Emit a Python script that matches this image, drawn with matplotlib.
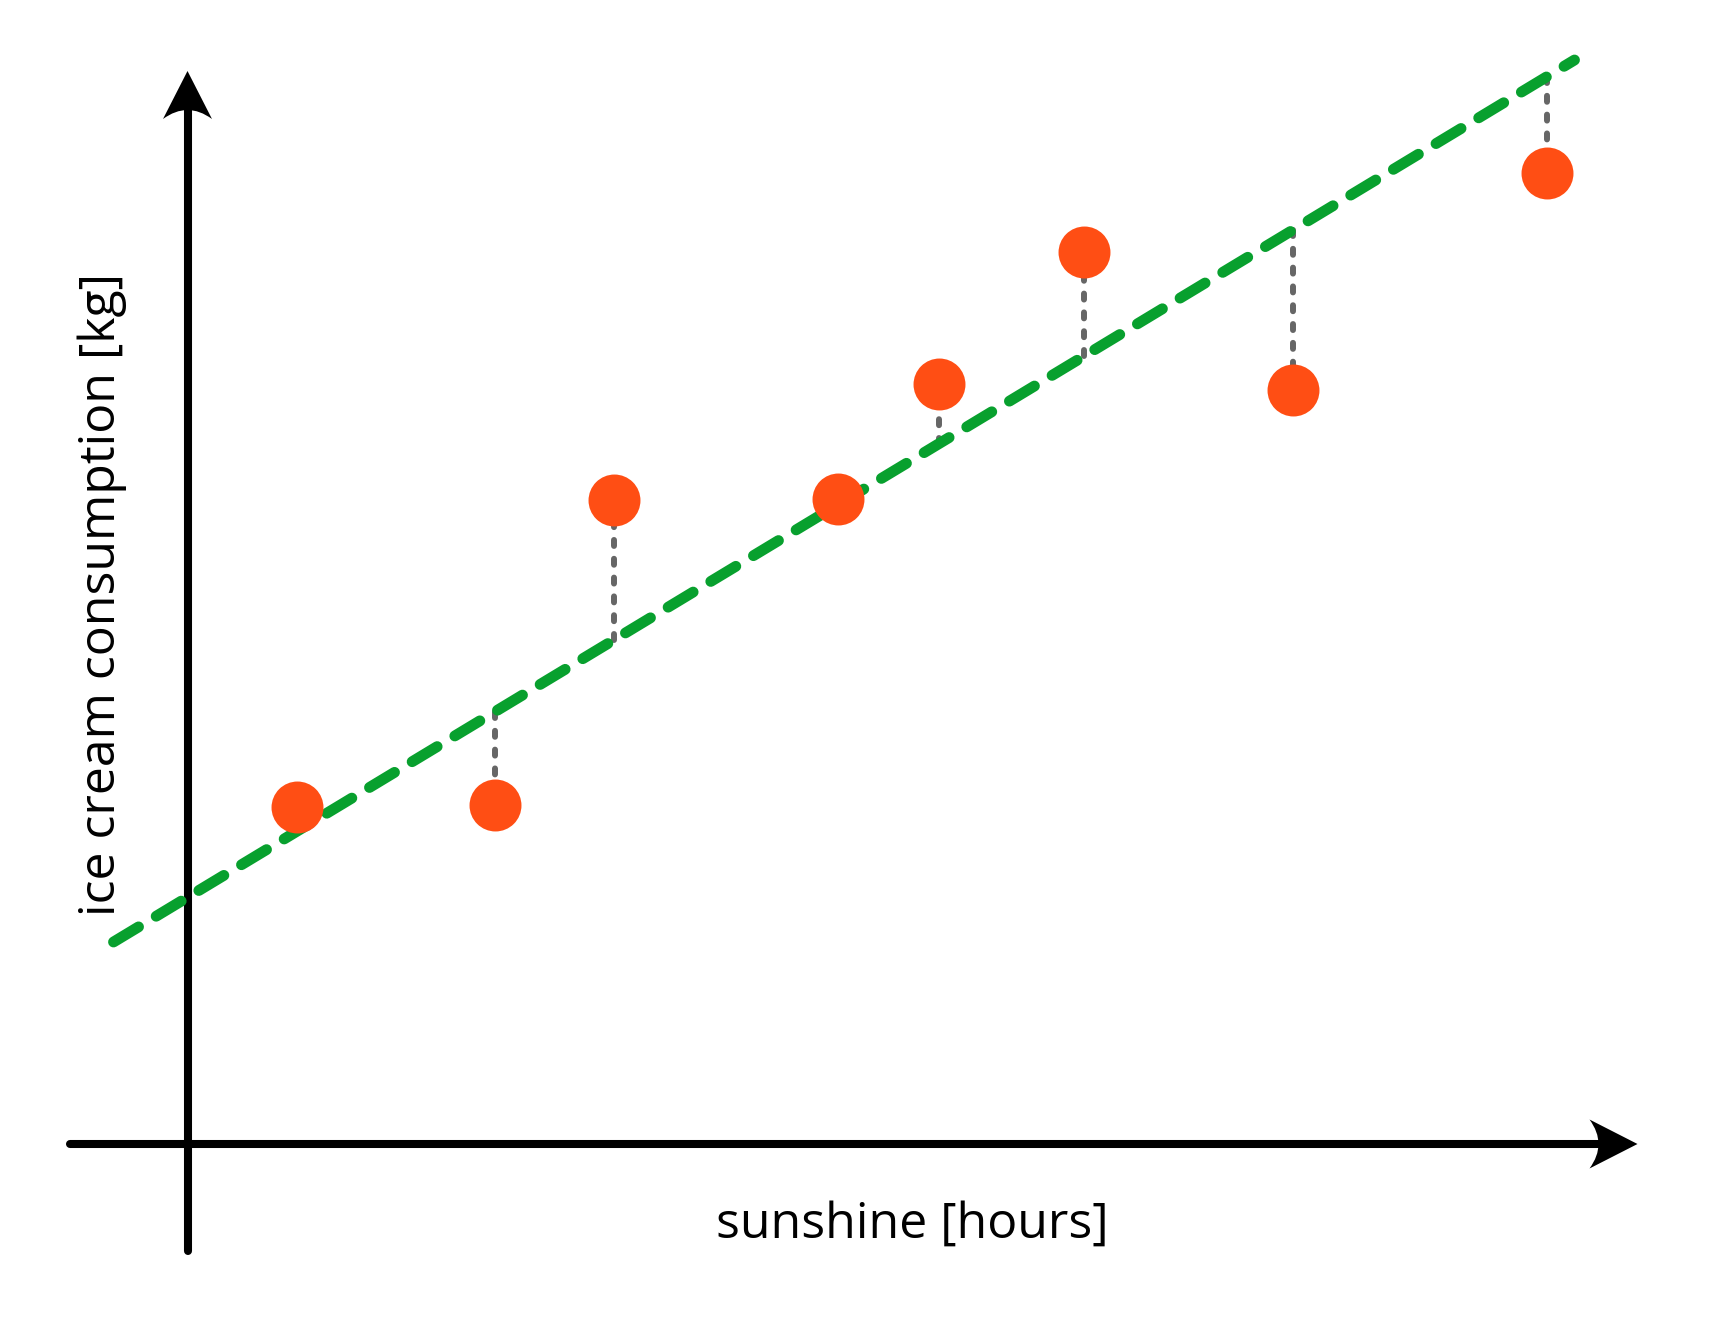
import numpy as np
import matplotlib
matplotlib.use("Agg")
import matplotlib.pyplot as plt
from matplotlib.path import Path
from matplotlib.patches import PathPatch

plt.rcParams['font.family'] = ['Open Sans', 'DejaVu Sans']

# observations (sunshine hours vs ice cream kg)
sunshine = [1.09, 3.07, 4.26, 6.50, 7.51, 8.96, 11.05, 13.59]
icecream = [3.37, 3.39, 6.44, 6.45, 7.60, 8.92, 7.54, 9.71]

# regression line end points
fit_x = [-0.74, 13.87]
fit_y = [2.02, 10.84]

# axis extents
x_axis = [-1.18, 14.50]
y_axis = [-1.07, 10.73]

orange = "#FF4E14"
green = "#08A02E"
grey = "#666666"

fig = plt.figure(figsize=(17.09, 13.21), dpi=100)
ax = fig.add_axes([0, 0, 1, 1])
ax.set_xlim(-1.875, 15.215)
ax.set_ylim(-1.77, 11.44)
ax.set_aspect('equal')
ax.axis('off')

head_len = 0.48
head_half = 0.245
notch = 0.30

def arrow_head(tip, direction):
    # direction: unit vector pointing to the tip
    d = np.array(direction, dtype=float)
    n = np.array([-d[1], d[0]])
    tip = np.array(tip, dtype=float)
    back = tip - d * head_len
    verts = [tip, back + n * head_half, tip - d * notch, back - n * head_half, tip]
    codes = [Path.MOVETO, Path.LINETO, Path.CURVE3, Path.CURVE3, Path.CLOSEPOLY]
    ax.add_patch(PathPatch(Path(verts, codes), facecolor="black", edgecolor="none", zorder=3))

# axes with arrows
ax.plot([x_axis[0], x_axis[1] - 0.35], [0, 0], color="black", lw=5.8,
        solid_capstyle="round", zorder=3)
ax.plot([0, 0], [y_axis[0], y_axis[1] - 0.35], color="black", lw=5.8,
        solid_capstyle="round", zorder=3)
arrow_head((x_axis[1], 0), (1, 0))
arrow_head((0, y_axis[1]), (0, 1))

# residuals
for xi, yi in zip(sunshine, icecream):
    y_line = np.interp(xi, fit_x, fit_y)
    ax.plot([xi, xi], [y_line, yi], color=grey, lw=4.3, dashes=(1.0, 2.15),
            dash_capstyle="round", zorder=2)

# regression line
ax.plot(fit_x, fit_y, color=green, lw=7.8, dashes=(2.7, 1.9),
        dash_capstyle="round", zorder=4)

# data points
ax.plot(sunshine, icecream, linestyle="none", marker="o", markersize=37.4,
        markerfacecolor=orange, markeredgewidth=0, zorder=5)

ax.text(7.25, -0.94, "sunshine [hours]", fontsize=36, ha="center", va="baseline")
ax.text(-0.72, 5.49, "ice cream consumption [kg]", fontsize=36, rotation=90,
        rotation_mode="anchor", ha="center", va="baseline")

fig.savefig("out.png", dpi=100)
